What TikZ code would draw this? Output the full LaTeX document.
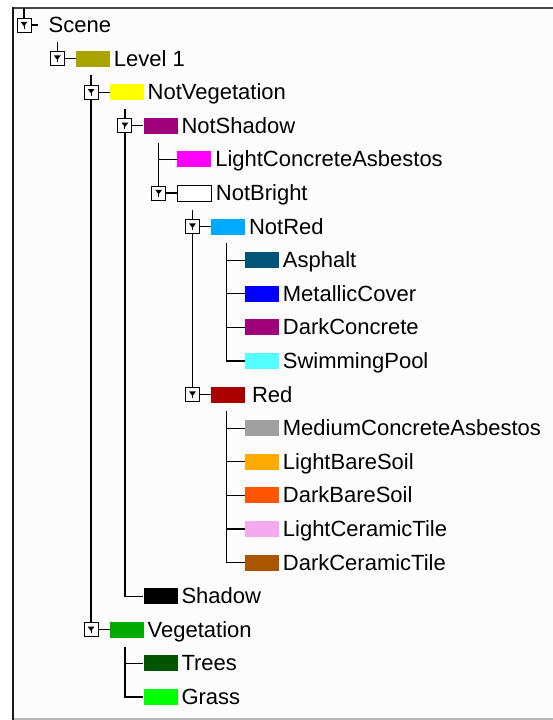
\documentclass[tikz,border=0pt]{standalone}
\usepackage{fontspec}
\setmainfont{Liberation Sans}

% class colours
\definecolor{cLevel}{RGB}{170,164,0}
\definecolor{cNotVeg}{RGB}{255,255,0}
\definecolor{cNotShadow}{RGB}{160,0,122}
\definecolor{cLightConc}{RGB}{255,0,255}
\definecolor{cNotRed}{RGB}{0,170,255}
\definecolor{cAsphalt}{RGB}{0,85,120}
\definecolor{cMetallic}{RGB}{0,0,255}
\definecolor{cDarkConc}{RGB}{160,0,122}
\definecolor{cPool}{RGB}{85,255,255}
\definecolor{cRed}{RGB}{170,0,0}
\definecolor{cMedConc}{RGB}{160,160,160}
\definecolor{cLightSoil}{RGB}{255,170,0}
\definecolor{cDarkSoil}{RGB}{255,85,0}
\definecolor{cLightTile}{RGB}{245,170,240}
\definecolor{cDarkTile}{RGB}{170,85,0}
\definecolor{cShadow}{RGB}{0,0,0}
\definecolor{cVeg}{RGB}{0,170,0}
\definecolor{cTrees}{RGB}{0,85,0}
\definecolor{cGrass}{RGB}{0,255,0}
\definecolor{panel}{RGB}{252,252,252}

\tikzset{
  tog/.style={draw, line width=1pt, fill=white, minimum size=14pt, inner sep=0pt},
  swatch/.style={minimum width=34pt, minimum height=16pt, inner sep=0pt, anchor=west},
  lbl/.style={anchor=base west, inner sep=0pt, font=\fontsize{22}{24}\selectfont},
  tree/.style={line width=1.3pt, black},
}

% down-arrow glyph inside a toggle box
\newcommand\togglyph[1]{%
  \fill ([shift={(-3.5,-3.2)}]#1.center) -- ([shift={(3.5,-3.2)}]#1.center)
        -- ([shift={(0,1.3)}]#1.center) -- cycle;
  \draw[line width=1pt] ([shift={(0,0)}]#1.center) -- ([shift={(0,3.6)}]#1.center);
}
% a node with expand/collapse toggle: name, x of level, y of row, fill, text
\newcommand\togitem[5]{%
  \node[tog] (t#1) at (#2,#3) {};
  \togglyph{t#1}
  \node[swatch,#4] (s#1) at (#2+18.5,#3) {};
  \node[lbl] (l#1) at ([shift={(3.5,7.5)}]s#1.east) {#5};
}
% a leaf class: name, x of level, y of row, fill, text
\newcommand\leafitem[5]{%
  \node[swatch,#4] (s#1) at (#2+18.5,#3) {};
  \node[lbl] (l#1) at ([shift={(3.5,7.5)}]s#1.east) {#5};
}

\begin{document}
\begin{tikzpicture}[x=1pt,y=-1pt]
  % page and sunken panel
  \fill[white] (0,0) rectangle (553,720);
  \useasboundingbox (0,0) rectangle (553,720);
  \fill[panel] (13,8) rectangle (553,719);
  \draw[line width=1.5pt, gray!55] (13,719) -- (553,719);
  \draw[line width=2pt, black!72] (13,8) -- (553,8);
  \draw[line width=2pt, black!90] (13,7) -- (13,720);

  % levels: x = 23.5 + 33.8 L ; rows: y = 25 + 33.6 r
  \node[tog] (t0) at (24,25) {};
  \togglyph{t0}
  \coordinate (s0) at (38,25);
  \node[lbl] (l0) at (48.5,32.5) {Scene};

  \togitem{1}{57.3}{58.6}{fill=cLevel}{Level 1}
  \togitem{2}{91.1}{92.2}{fill=cNotVeg}{NotVegetation}
  \togitem{3}{124.9}{125.8}{fill=cNotShadow}{NotShadow}
  \leafitem{4}{158.7}{159.4}{fill=cLightConc}{LightConcreteAsbestos}
  \togitem{5}{158.7}{193}{draw=black, line width=1pt, fill=white}{NotBright}
  \togitem{6}{192.5}{226.6}{fill=cNotRed}{NotRed}
  \leafitem{7}{226.3}{260.2}{fill=cAsphalt}{Asphalt}
  \leafitem{8}{226.3}{293.8}{fill=cMetallic}{MetallicCover}
  \leafitem{9}{226.3}{327.4}{fill=cDarkConc}{DarkConcrete}
  \leafitem{10}{226.3}{361}{fill=cPool}{SwimmingPool}
  \togitem{11}{192.5}{394.6}{fill=cRed}{\hspace{3pt}Red}
  \leafitem{12}{226.3}{428.2}{fill=cMedConc}{MediumConcreteAsbestos}
  \leafitem{13}{226.3}{461.8}{fill=cLightSoil}{LightBareSoil}
  \leafitem{14}{226.3}{495.4}{fill=cDarkSoil}{DarkBareSoil}
  \leafitem{15}{226.3}{529}{fill=cLightTile}{LightCeramicTile}
  \leafitem{16}{226.3}{562.6}{fill=cDarkTile}{DarkCeramicTile}
  \leafitem{17}{124.9}{596.2}{fill=cShadow}{Shadow}
  \togitem{18}{91.1}{629.8}{fill=cVeg}{Vegetation}
  \leafitem{19}{124.9}{663.4}{fill=cTrees}{Trees}
  \leafitem{20}{124.9}{697}{fill=cGrass}{Grass}

  % tops of the sibling lines
  \coordinate (k0) at (24,8);
  \coordinate (k1) at (57.3,41.8);
  \coordinate (k2) at (91.1,75.4);
  \coordinate (k3) at (124.9,109);
  \coordinate (k4) at (158.7,142.6);
  \coordinate (k5) at (192.5,209.8);
  \coordinate (k6) at (226.3,243.4);
  \coordinate (k7) at (226.3,411.4);
  \coordinate (k8) at (124.9,646.6);

  % toggle to swatch
  \draw[tree] (t0.east) -- (s0);
  \foreach \n in {1,2,3,5,6,11,18} \draw[tree] (t\n.east) -- (s\n.west);

  % sibling lines
  \draw[tree] (k0) -- (t0.north);
  \draw[tree] (k1) -- (t1.north);
  \draw[tree] (k2) -- (t2.north);
  \draw[tree] (t2.south) -- (t18.north);
  \draw[tree] (k3) -- (t3.north);
  \draw[tree] (t3.south) |- (s17.west);
  \draw[tree] (k4) -- (t5.north);
  \draw[tree] (s4.west -| k4) -- (s4.west);
  \draw[tree] (k5) -- (t6.north);
  \draw[tree] (t6.south) -- (t11.north);
  \draw[tree] (k6) |- (s10.west);
  \foreach \n in {7,8,9} \draw[tree] (s\n.west -| k6) -- (s\n.west);
  \draw[tree] (k7) |- (s16.west);
  \foreach \n in {12,13,14,15} \draw[tree] (s\n.west -| k7) -- (s\n.west);
  \draw[tree] (k8) |- (s20.west);
  \draw[tree] (s19.west -| k8) -- (s19.west);
\end{tikzpicture}
\end{document}
